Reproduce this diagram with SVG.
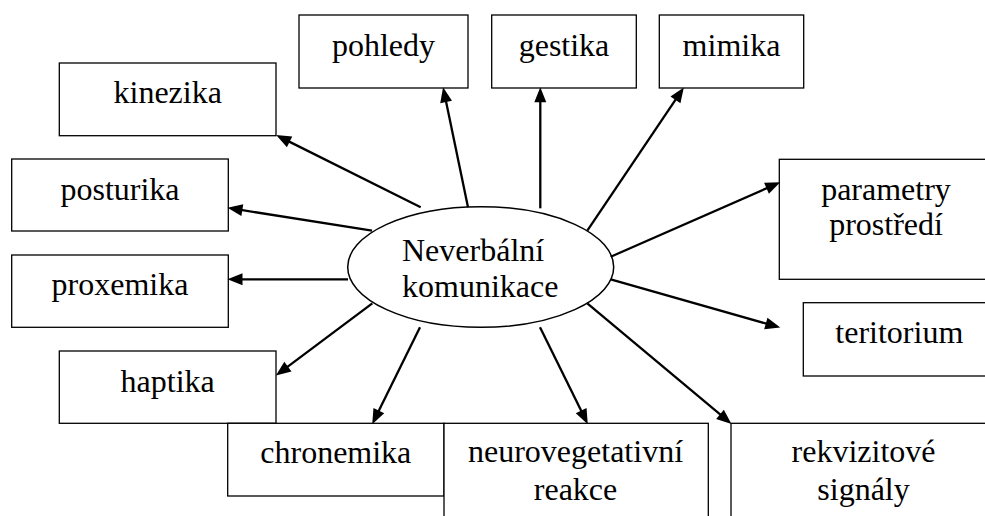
<svg xmlns="http://www.w3.org/2000/svg" width="985" height="516" viewBox="0 0 985 516">
<style>
.box{fill:#fff;stroke:#000;stroke-width:1.3}
.ell{fill:#fff;stroke:#000;stroke-width:1.5}
.c line{stroke:#000;stroke-width:2.3;marker-end:url(#ah)}
</style>
<defs>
<marker id="ah" markerUnits="userSpaceOnUse" markerWidth="15" markerHeight="12" refX="6" refY="6" orient="auto" overflow="visible">
<path d="M0,0 L15,6 L0,12 z" fill="#000"/>
</marker>
</defs>
<rect width="985" height="516" fill="#fff"/>
<g id="pohledy"><rect class="box" x="299" y="15" width="169" height="73"/><text style="font-family:'Liberation Serif',serif;font-size:32px" text-anchor="middle" x="383.5" y="56">pohledy</text></g>
<g id="gestika"><rect class="box" x="491.7" y="15" width="144.6" height="73"/><text style="font-family:'Liberation Serif',serif;font-size:32px" text-anchor="middle" x="564" y="55.5">gestika</text></g>
<g id="mimika"><rect class="box" x="659.3" y="15" width="144.4" height="73"/><text style="font-family:'Liberation Serif',serif;font-size:32px" text-anchor="middle" x="731.5" y="55.5">mimika</text></g>
<g id="kinezika"><rect class="box" x="59.3" y="63" width="216.7" height="72.7"/><text style="font-family:'Liberation Serif',serif;font-size:32px" text-anchor="middle" x="167.7" y="103.3">kinezika</text></g>
<g id="posturika"><rect class="box" x="11.7" y="159" width="216.6" height="72"/><text style="font-family:'Liberation Serif',serif;font-size:32px" text-anchor="middle" x="120" y="200">posturika</text></g>
<g id="proxemika"><rect class="box" x="11.7" y="255" width="216.6" height="72.3"/><text style="font-family:'Liberation Serif',serif;font-size:32px" text-anchor="middle" x="120" y="295">proxemika</text></g>
<g id="haptika"><rect class="box" x="59.3" y="351" width="216.7" height="72.3"/><text style="font-family:'Liberation Serif',serif;font-size:32px" text-anchor="middle" x="167.7" y="391.7">haptika</text></g>
<g id="chronemika"><rect class="box" x="227.7" y="423.3" width="216.3" height="72.7"/><text style="font-family:'Liberation Serif',serif;font-size:32px" text-anchor="middle" x="335.8" y="463.3">chronemika</text></g>
<g id="neurovegetativni"><rect class="box" x="444" y="423.3" width="264.3" height="100"/><text style="font-family:'Liberation Serif',serif;font-size:32px" text-anchor="middle" x="575.5" y="461.7">neurovegetativní</text><text style="font-family:'Liberation Serif',serif;font-size:32px" text-anchor="middle" x="575.5" y="500">reakce</text></g>
<g id="rekvizitove"><rect class="box" x="731" y="423.3" width="270" height="100"/><text style="font-family:'Liberation Serif',serif;font-size:32px" text-anchor="middle" x="863.5" y="461.7">rekvizitové</text><text style="font-family:'Liberation Serif',serif;font-size:32px" text-anchor="middle" x="863.5" y="500">signály</text></g>
<g id="parametry"><rect class="box" x="779.3" y="159.3" width="215" height="120"/><text style="font-family:'Liberation Serif',serif;font-size:32px" text-anchor="middle" x="886" y="200">parametry</text><text style="font-family:'Liberation Serif',serif;font-size:32px" text-anchor="middle" x="886" y="235">prostředí</text></g>
<g id="teritorium"><rect class="box" x="803.3" y="302.7" width="192" height="73.3"/><text style="font-family:'Liberation Serif',serif;font-size:32px" text-anchor="middle" x="899.3" y="343.3">teritorium</text></g>
<g id="center"><ellipse class="ell" cx="480.7" cy="267" rx="133" ry="60.3"/><text style="font-family:'Liberation Serif',serif;font-size:32px" x="402" y="260.7">Neverbální</text><text style="font-family:'Liberation Serif',serif;font-size:32px" x="402" y="296.7">komunikace</text></g>
<g id="connectors" class="c">
<line x1="420.7" y1="207.3" x2="284.2" y2="139.1"/>
<line x1="372" y1="230.7" x2="236.4" y2="209.2"/>
<line x1="348" y1="279.3" x2="236.5" y2="279.3"/>
<line x1="372.3" y1="303.3" x2="283.1" y2="370.2"/>
<line x1="420" y1="327.3" x2="376.2" y2="416.1"/>
<line x1="540" y1="327.3" x2="583.8" y2="416.1"/>
<line x1="587.3" y1="303.3" x2="724.6" y2="418.2"/>
<line x1="610.7" y1="279.3" x2="771.6" y2="325.1"/>
<line x1="610.7" y1="256.7" x2="772" y2="185.9"/>
<line x1="587.3" y1="230.7" x2="678.8" y2="94.9"/>
<line x1="540.3" y1="208.3" x2="540.3" y2="96.3"/>
<line x1="468" y1="207.3" x2="444.9" y2="96.1"/>
</g>
</svg>
